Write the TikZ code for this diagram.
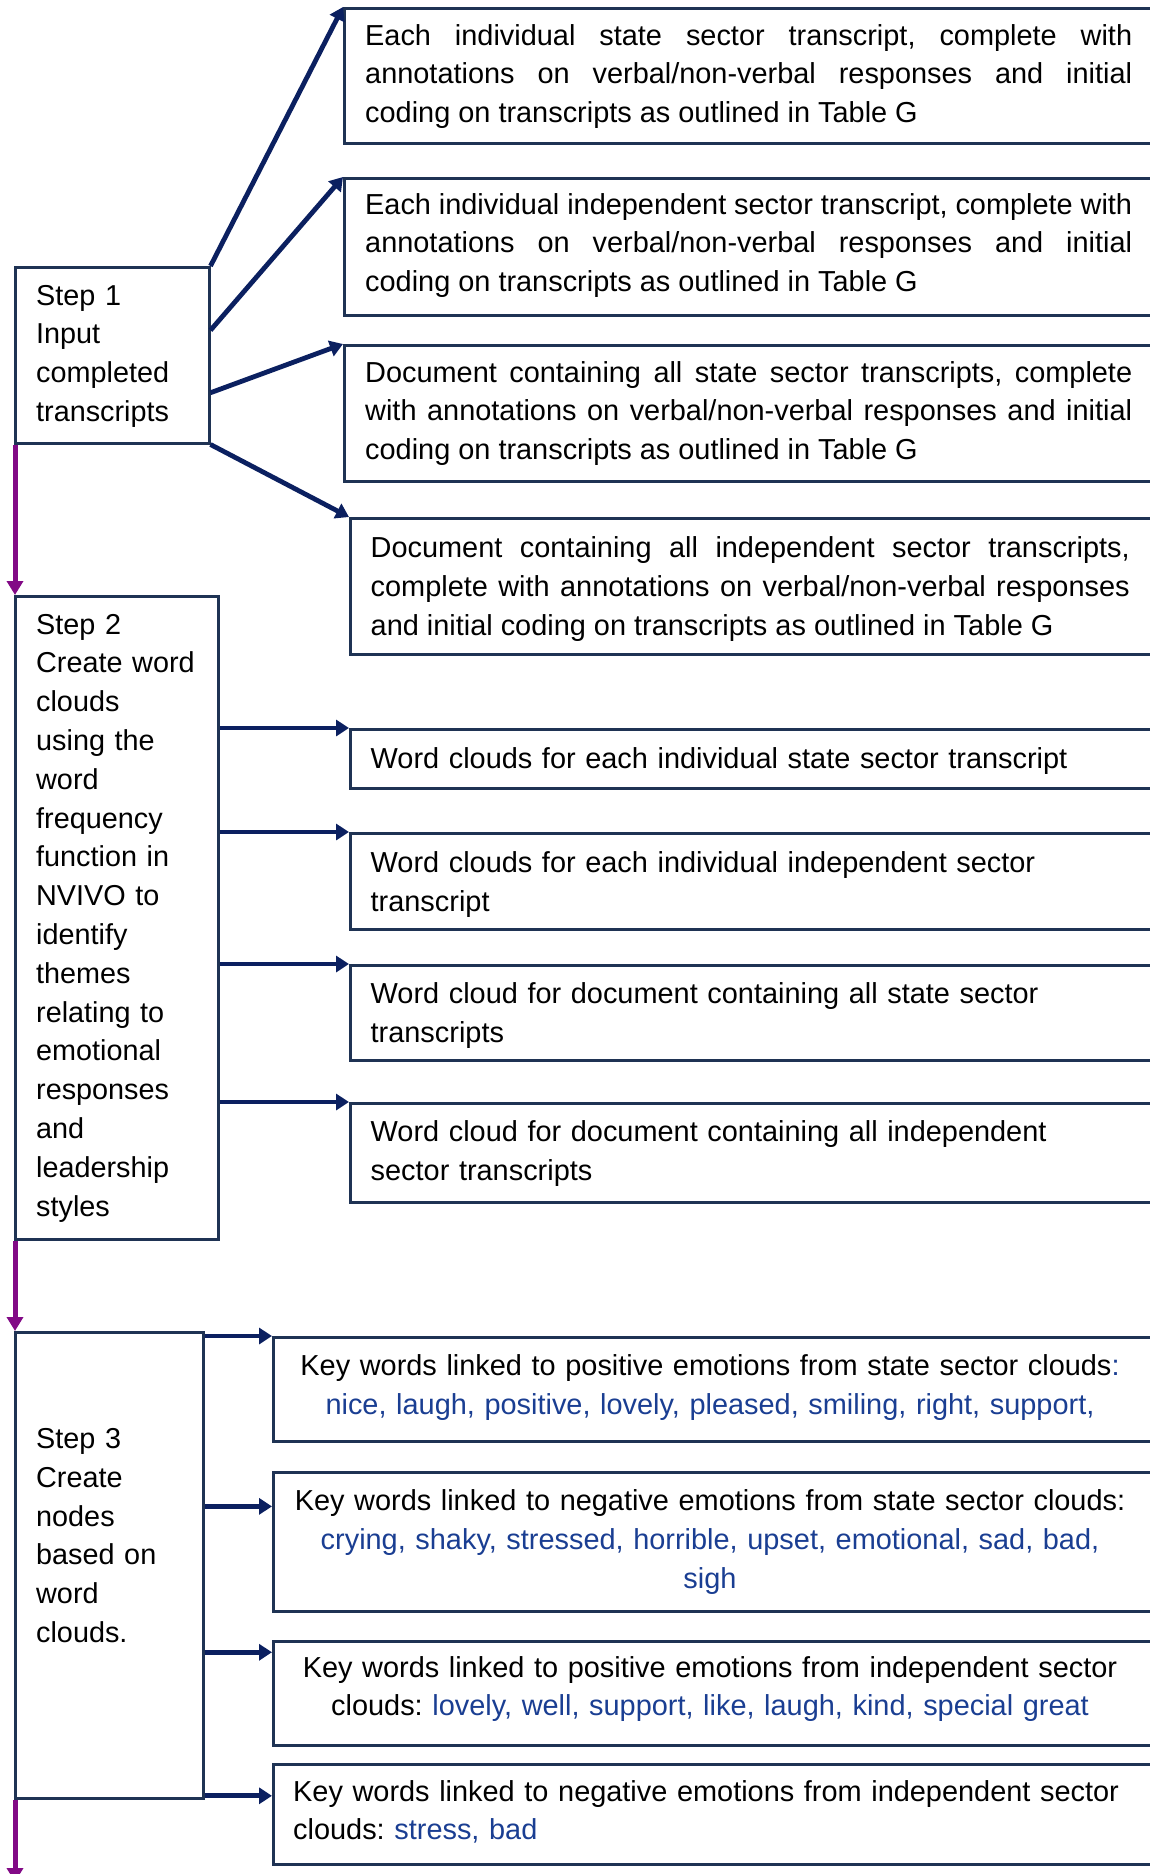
\documentclass[tikz,border=0pt]{standalone}
\usepackage{fontspec}
\setmainfont{Liberation Sans}
\usetikzlibrary{arrows.meta,calc}
\definecolor{boxline}{HTML}{1F3354}
\definecolor{arrownavy}{HTML}{0B2060}
\definecolor{stepflow}{HTML}{820A86}
\definecolor{keyblue}{HTML}{1A3E92}
\tolerance=10000
\hyphenpenalty=10000
\exhyphenpenalty=10000
\frenchspacing
\begin{document}
\begin{tikzpicture}[
  x=1pt, y=-1pt,
  panel/.style={draw=boxline, line width=2.5pt, rectangle, anchor=north west, inner sep=0pt},
  body/.style={inner sep=0pt, font=\fontsize{28.9}{38.9}\selectfont},
  steptext/.style={inner sep=0pt, anchor=base west, text width=175pt, align=left, font=\fontsize{28.8}{38.8}\selectfont},
  navyarrow/.style={draw=arrownavy, line width=4.8pt, -{Triangle[length=13pt,width=16pt]}},
  flowarrow/.style={draw=stepflow, line width=5pt, -{Triangle[length=14pt,width=16pt]}}
]
\useasboundingbox (0,0) rectangle (1150,1874);
\clip (0,0) rectangle (1150,1874);

% step boxes on the left
\node[panel, minimum width=194pt, minimum height=176pt] (s1) at (14,266) {};
\node[panel, minimum width=203pt, minimum height=643pt] (s2) at (14,595) {};
\node[panel, minimum width=188pt, minimum height=466pt] (s3) at (14,1331) {};

\node[steptext] (s1t) at (36,305) {Step 1\\Input\\completed\\transcripts};
\node[steptext] (s2t) at (36,634) {Step 2\\Create word\\clouds\\using the\\word\\frequency\\function in\\NVIVO to\\identify\\themes\\relating to\\emotional\\responses\\and\\leadership\\styles};
\node[steptext] (s3t) at (36,1448.5) {Step 3\\Create\\nodes\\based on\\word\\clouds.};

% outputs of step 1
\node[panel, minimum width=809pt, minimum height=135pt] (b1) at (343,7) {};
\node[panel, minimum width=809pt, minimum height=137pt] (b2) at (343,177) {};
\node[panel, minimum width=809pt, minimum height=136pt] (b3) at (343,344) {};
\node[panel, minimum width=803pt, minimum height=136pt] (b4) at (349,517) {};

\node[body, anchor=base west, text width=767pt, align=justify] (t1) at (365,45)
  {Each individual state sector transcript, complete with\linebreak annotations on verbal/non-verbal responses and initial\linebreak coding on transcripts as outlined in Table G};
\node[body, anchor=base west, text width=767pt, align=justify] (t2) at (365,214)
  {Each individual independent sector transcript, complete with\linebreak annotations on verbal/non-verbal responses and initial\linebreak coding on transcripts as outlined in Table G};
\node[body, anchor=base west, text width=767pt, align=justify] (t3) at (365,382)
  {Document containing all state sector transcripts, complete\linebreak with annotations on verbal/non-verbal responses and initial\linebreak coding on transcripts as outlined in Table G};
\node[body, anchor=base west, text width=759pt, align=justify] (t4) at (370.5,557.5)
  {Document containing all independent sector transcripts,\linebreak complete with annotations on verbal/non-verbal responses\linebreak and initial coding on transcripts as outlined in Table G};

% outputs of step 2
\node[panel, minimum width=803pt, minimum height=59pt] (b5) at (349,728) {};
\node[panel, minimum width=803pt, minimum height=96pt] (b6) at (349,832) {};
\node[panel, minimum width=803pt, minimum height=95pt] (b7) at (349,964) {};
\node[panel, minimum width=803pt, minimum height=99pt] (b8) at (349,1102) {};

\node[body, anchor=base west, text width=760pt, align=left] (t5) at (370.5,768.5)
  {Word clouds for each individual state sector transcript};
\node[body, anchor=base west, text width=760pt, align=left] (t6) at (370.5,872.5)
  {Word clouds for each individual independent sector\\transcript};
\node[body, anchor=base west, text width=760pt, align=left] (t7) at (370.5,1003.5)
  {Word cloud for document containing all state sector\\transcripts};
\node[body, anchor=base west, text width=760pt, align=left] (t8) at (370.5,1141.5)
  {Word cloud for document containing all independent\\sector transcripts};

% outputs of step 3
\node[panel, minimum width=880pt, minimum height=104pt] (b9) at (272,1336) {};
\node[panel, minimum width=880pt, minimum height=139pt] (b10) at (272,1471) {};
\node[panel, minimum width=880pt, minimum height=104pt] (b11) at (272,1640) {};
\node[panel, minimum width=880pt, minimum height=100pt] (b12) at (272,1763) {};

\node[body, anchor=base, text width=860pt, align=center] (t9) at (710,1375.5)
  {Key words linked to positive emotions from state sector clouds{\color{keyblue}:}\\
   {\color{keyblue}nice, laugh, positive, lovely, pleased, smiling, right, support,}};
\node[body, anchor=base, text width=860pt, align=center] (t10) at (710,1510.5)
  {Key words linked to negative emotions from state sector clouds:\\
   {\color{keyblue}crying, shaky, stressed, horrible, upset, emotional, sad, bad,}\\
   {\color{keyblue}sigh}};
\node[body, anchor=base, text width=860pt, align=center] (t11) at (710,1677)
  {Key words linked to positive emotions from independent sector\\
   clouds: {\color{keyblue}lovely, well, support, like, laugh, kind, special great}};
\node[body, anchor=base west, text width=850pt, align=left] (t12) at (293,1801)
  {Key words linked to negative emotions from independent sector\\
   clouds: {\color{keyblue}stress, bad}};

% connectors from step 1
\draw[navyarrow] (s1.north east) -- (b1.north west);
\draw[navyarrow] ($(s1.north east)!0.36!(s1.south east)$) -- (b2.north west);
\draw[navyarrow] ($(s1.north east)!0.71!(s1.south east)$) -- (b3.north west);
\draw[navyarrow] (s1.south east) -- (b4.north west);

% connectors from step 2
\draw[navyarrow] (s2.east |- b5.north west) -- (b5.north west);
\draw[navyarrow] (s2.east |- b6.north west) -- (b6.north west);
\draw[navyarrow] (s2.east |- b7.north west) -- (b7.north west);
\draw[navyarrow] (s2.east |- b8.north west) -- (b8.north west);

% connectors from step 3
\coordinate (p9) at (b9.north west);
\coordinate (p10) at ($(b10.north west)!0.25!(b10.south west)$);
\coordinate (p11) at ($(b11.north west)!0.115!(b11.south west)$);
\coordinate (p12) at ($(b12.north west)!0.32!(b12.south west)$);
\draw[navyarrow] (s3.east |- p9) -- (p9);
\draw[navyarrow] (s3.east |- p10) -- (p10);
\draw[navyarrow] (s3.east |- p11) -- (p11);
\draw[navyarrow] (s3.east |- p12) -- (p12);

% flow between the steps
\coordinate (flowend) at (15,1882);
\draw[flowarrow] ([xshift=1pt]s1.south west) -- ([xshift=1pt]s2.north west);
\draw[flowarrow] ([xshift=1pt]s2.south west) -- ([xshift=1pt]s3.north west);
\draw[flowarrow] ([xshift=1pt]s3.south west) -- (flowend);
\end{tikzpicture}
\end{document}
